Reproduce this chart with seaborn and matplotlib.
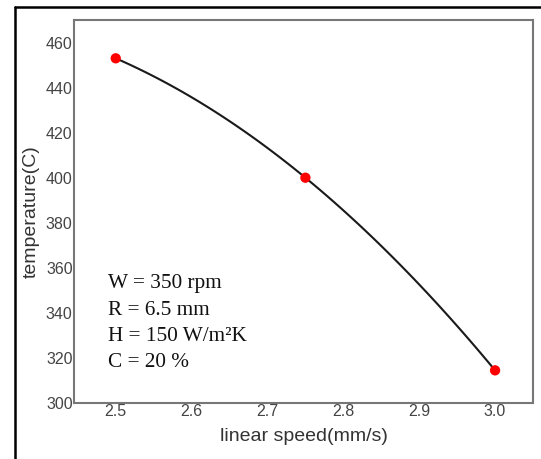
import numpy as np
import pandas as pd
import matplotlib
matplotlib.use("Agg")
import matplotlib.pyplot as plt
import seaborn as sns
from matplotlib.lines import Line2D

# データ
speed = [2.5, 2.75, 3.0]
temperature = [453.0, 400.0, 314.5]
x_ticks = [2.5, 2.6, 2.7, 2.8, 2.9, 3.0]
y_ticks = [300, 320, 340, 360, 380, 400, 420, 440, 460]
conditions = ["W = 350 rpm", "R = 6.5 mm", "H = 150 W/m²K", "C = 20 %"]

df = pd.DataFrame({"speed": speed, "temperature": temperature})

sns.set_theme(style="white")
plt.rcParams["font.family"] = ["Liberation Sans", "DejaVu Sans"]

fig = plt.figure(figsize=(5.41, 4.59), dpi=100)
ax = fig.add_axes([74 / 541, 1 - 403 / 459, (533 - 74) / 541, (403 - 20) / 459])

# 2次の近似曲線（3点を通る）
sns.regplot(x="speed", y="temperature", data=df, order=2, ci=None,
            scatter=False, ax=ax, line_kws={"color": "#1a1a1a", "lw": 1.5})
sns.scatterplot(x="speed", y="temperature", data=df, ax=ax, color="red",
                s=55, edgecolor="none", zorder=5)

ax.set_xlim(2.445, 3.05)
ax.set_ylim(300, 470)
ax.set_xticks(x_ticks)
ax.set_xticklabels([f"{v:.1f}" for v in x_ticks])
ax.set_yticks(y_ticks)
ax.tick_params(axis="both", length=0, pad=1, labelsize=11.5, labelcolor="#444444")
ax.set_xlabel("linear speed(mm/s)", fontsize=14, color="#333333", labelpad=6)
ax.set_ylabel("temperature(C)", fontsize=14, color="#333333", labelpad=4)

for sp in ax.spines.values():
    sp.set_color("#777777")
    sp.set_linewidth(1.5)

ax.text(0.073, 0.208, "\n".join(conditions), transform=ax.transAxes,
        family=["Liberation Serif", "DejaVu Serif"], fontsize=15.3,
        color="#111111", va="center", ha="left", linespacing=1.52)

# 外枠（上と左）
fig.add_artist(Line2D([15 / 541, 15 / 541], [0, 1 - 7 / 459], color="black", lw=1.8))
fig.add_artist(Line2D([15 / 541, 1], [1 - 7 / 459, 1 - 7 / 459], color="black", lw=1.8))

plt.savefig("out.png", dpi=100)
plt.close()
